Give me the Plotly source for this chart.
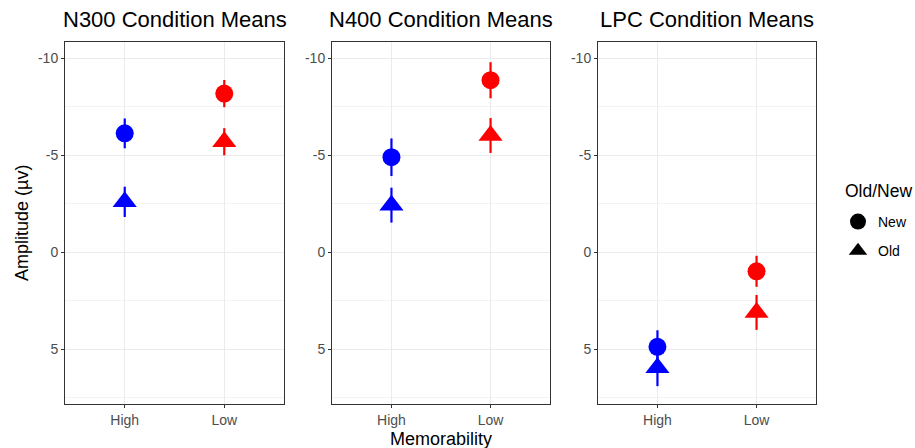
import plotly.graph_objects as go

# ---- data ----
components = ["N300", "N400", "LPC"]
memorability = ["High", "Low"]
new_means = {"N300": [-6.13, -8.18], "N400": [-4.90, -8.87], "LPC": [4.87, 0.98]}
new_err = {"N300": [0.77, 0.70], "N400": [0.97, 0.93], "LPC": [0.85, 0.80]}
old_means = {"N300": [-2.60, -5.70], "N400": [-2.43, -6.02], "LPC": [5.95, 3.10]}
old_err = {"N300": [0.78, 0.70], "N400": [0.90, 0.90], "LPC": [0.95, 0.90]}
colors = ["#0000FF", "#FF0000"]  # High, Low

W, H = 915, 448
panels_px = [(65, 284), (332, 550), (598, 816)]
top_px, bot_px = 42, 404
FONT = "Liberation Sans, Arial, sans-serif"

fig = go.Figure()

for i, comp in enumerate(components):
    ax = "" if i == 0 else str(i + 1)
    xref, yref = "x" + ax, "y" + ax
    for series, errs, symbol, size in [(new_means, new_err, "circle", 18),
                                       (old_means, old_err, "triangle-up", 21)]:
        for k, cat in enumerate(memorability):
            fig.add_trace(go.Scatter(
                x=[cat], y=[series[comp][k]], mode="markers",
                marker=dict(symbol=symbol, size=size, color=colors[k], line=dict(width=0)),
                error_y=dict(type="data", array=[errs[comp][k]], width=0,
                             thickness=2.2, color=colors[k]),
                xaxis=xref, yaxis=yref, showlegend=False))
    x0, x1 = panels_px[i]
    common_axis = dict(showline=True, mirror=True, linecolor="#333333", linewidth=1,
                       ticks="outside", ticklen=3, tickcolor="#333333",
                       tickfont=dict(family=FONT, size=14, color="#4D4D4D"),
                       showgrid=True, gridcolor="#EBEBEB", gridwidth=1, zeroline=False)
    fig.layout["xaxis" + ax] = dict(domain=[x0 / W, x1 / W], anchor=yref,
                                    type="category", range=[-0.6, 1.6], **common_axis)
    fig.layout["yaxis" + ax] = dict(domain=[1 - bot_px / H, 1 - top_px / H], anchor=xref,
                                    range=[7.82, -10.84], tickmode="array",
                                    tickvals=[-10, -5, 0, 5], ticktext=["-10", "-5", "0", "5"],
                                    minor=dict(tickmode="array", tickvals=[-7.5, -2.5, 2.5, 7.5],
                                               showgrid=True, gridcolor="#F3F3F3", gridwidth=0.8,
                                               ticks=""),
                                    **common_axis)
    fig.add_annotation(text=f"{comp} Condition Means", x=(x0 + x1) / 2 / W, y=1 - 20 / H,
                       xref="paper", yref="paper", showarrow=False,
                       font=dict(family=FONT, size=22, color="black"),
                       xanchor="center", yanchor="middle")

# legend entries
fig.add_trace(go.Scatter(x=[None], y=[None], mode="markers", name="New", legendgroup="new",
                         marker=dict(symbol="circle", size=17, color="black")))
fig.add_trace(go.Scatter(x=[None], y=[None], mode="markers", name="Old", legendgroup="old",
                         marker=dict(symbol="triangle-up", size=20, color="black")))

fig.add_annotation(text="Old/New", x=913 / W, y=1 - 191 / H, xref="paper", yref="paper",
                   showarrow=False, xanchor="right", yanchor="middle", borderpad=0,
                   font=dict(family=FONT, size=17.5, color="black"))
fig.add_annotation(text="Amplitude (µv)", x=22 / W, y=1 - 223 / H, xref="paper", yref="paper",
                   textangle=-90, showarrow=False, xanchor="center", yanchor="middle",
                   font=dict(family=FONT, size=18, color="black"))
fig.add_annotation(text="Memorability", x=440.5 / W, y=1 - 439 / H, xref="paper", yref="paper",
                   showarrow=False, font=dict(family=FONT, size=18, color="black"),
                   xanchor="center", yanchor="middle")

fig.update_layout(
    width=W, height=H, margin=dict(l=0, r=0, t=0, b=0),
    paper_bgcolor="white", plot_bgcolor="white",
    showlegend=True,
    legend=dict(font=dict(family=FONT, size=14, color="black"),
                x=838 / W, y=1 - 206 / H, xanchor="left", yanchor="top",
                bgcolor="rgba(0,0,0,0)", itemsizing="trace", tracegroupgap=8),
)

fig.write_html("out.html", config={"displayModeBar": False},
               post_script="document.body.style.margin='0px';")
